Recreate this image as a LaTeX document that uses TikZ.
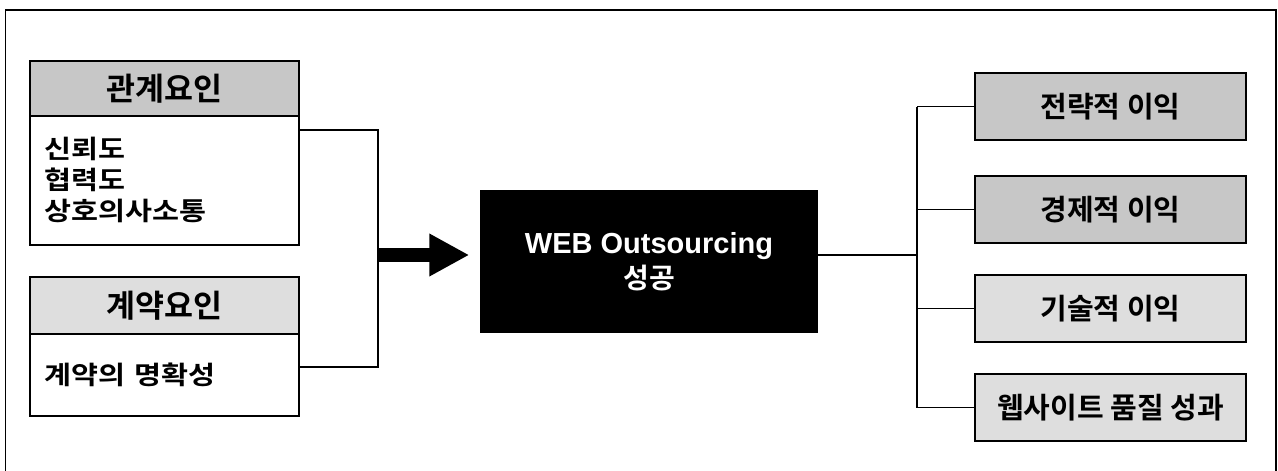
\documentclass[tikz,border=0pt]{standalone}
\usepackage{fontspec}
\setmainfont{Liberation Sans}
\newfontfamily\kr{Noto Sans CJK KR}[BoldFont={Noto Sans CJK KR Bold}]
\newfontfamily\krw{Noto Sans CJK KR}[BoldFont={Noto Sans CJK KR Bold},FakeStretch=1.15]
\usetikzlibrary{arrows.meta}
\definecolor{shadeA}{gray}{0.78}
\definecolor{shadeB}{gray}{0.87}
\begin{document}
\begin{tikzpicture}[x=1pt,y=-1pt,
  box/.style={draw,line width=1.5pt,inner sep=0pt},
  hdr/.style={box,minimum width=269pt,minimum height=55pt,anchor=north west,
    font=\kr\bfseries\fontsize{31.5}{34}\selectfont},
  bodybox/.style={box,minimum width=269pt,anchor=north west,text width=239pt,align=left,
    inner xsep=15pt,font=\krw\bfseries\fontsize{25.5}{31}\selectfont},
  rbox/.style={box,minimum width=271pt,minimum height=67pt,
    font=\kr\bfseries\fontsize{29}{32}\selectfont},
  conn/.style={line width=1.2pt},
  frame/.style={line width=1.6pt}
]
\useasboundingbox (0,0) rectangle (1278,471);
\draw[frame] (5.5,471) -- (5.5,10) -- (1276,10) -- (1276,471);

% left boxes
\node[hdr,fill=shadeA] (h1) at (29,60) {관계요인};
\node[bodybox,minimum height=129pt] (b1) at (29,115) {신뢰도\\협력도\\상호의사소통};
\node[hdr,fill=shadeB,minimum height=57pt] (h2) at (29,276) {계약요인};
\node[bodybox,minimum height=82pt] (b2) at (29,333) {계약의 명확성};

% center box
\node[box,fill=black,text=white,minimum width=336pt,minimum height=141pt,align=center,
  font=\bfseries\fontsize{29}{35}\selectfont] (wob) at (649,261.5)
  {WEB Outsourcing\\{\kr\bfseries\fontsize{28}{35}\selectfont 성공}};

% right boxes
\node[rbox,fill=shadeA] (r1) at (1110.5,106.5) {전략적 이익};
\node[rbox,fill=shadeA] (r2) at (1110.5,209.5) {경제적 이익};
\node[rbox,fill=shadeB] (r3) at (1110.5,308.5) {기술적 이익};
\node[rbox,fill=shadeB] (r4) at (1110.5,407.5) {웹사이트 품질 성과};

% left connector
\coordinate (j1) at (378,130);
\coordinate (j2) at (378,367);
\coordinate (lbus) at (378,255);
\draw[conn] (b1.east |- j1) -- (j1) -- (j2) -- (b2.east |- j2);
\draw[line width=14pt,-{Triangle[length=40pt,width=40pt]},shorten >=11pt] (lbus) -- (wob.west |- lbus);

% right connector
\coordinate (rbus) at (917,255);
\draw[conn] (wob.east |- rbus) -- (rbus);
\draw[conn] (rbus |- r1.west) -- (rbus |- r4.west);
\foreach \r in {r1,r2,r3,r4}{\draw[conn] (rbus |- \r.west) -- (\r.west);}
\end{tikzpicture}
\end{document}
